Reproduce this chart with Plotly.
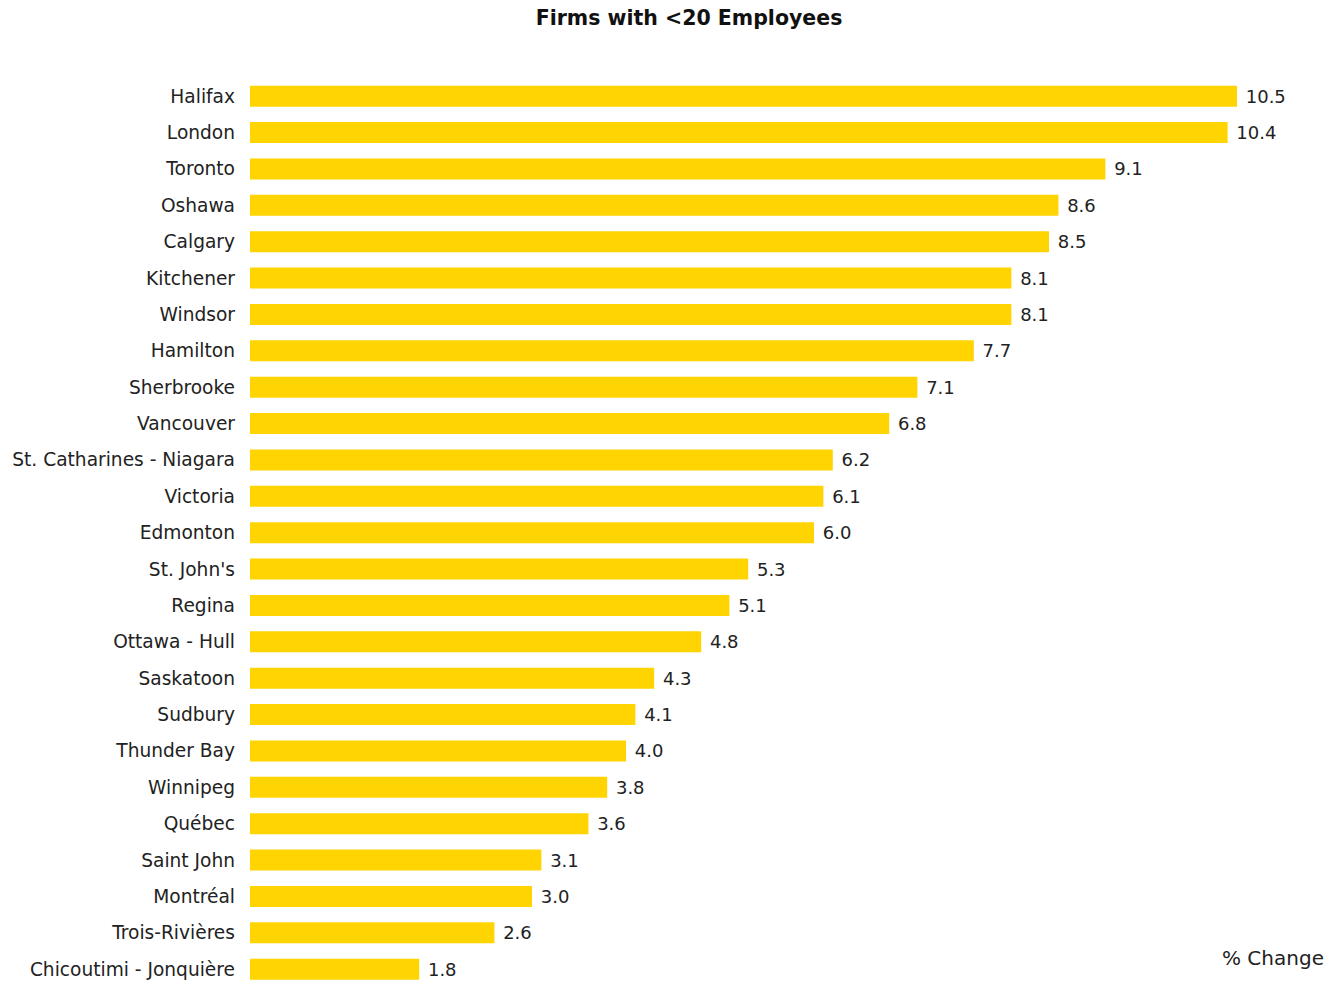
import plotly.graph_objects as go

# Percent change in firms with fewer than 20 employees, by census metropolitan area
cities = [
    "Halifax", "London", "Toronto", "Oshawa", "Calgary", "Kitchener", "Windsor",
    "Hamilton", "Sherbrooke", "Vancouver", "St. Catharines - Niagara", "Victoria",
    "Edmonton", "St. John's", "Regina", "Ottawa - Hull", "Saskatoon", "Sudbury",
    "Thunder Bay", "Winnipeg", "Québec", "Saint John", "Montréal", "Trois-Rivières",
    "Chicoutimi - Jonquière",
]
pct_change = [
    10.5, 10.4, 9.1, 8.6, 8.5, 8.1, 8.1,
    7.7, 7.1, 6.8, 6.2, 6.1,
    6.0, 5.3, 5.1, 4.8, 4.3, 4.1,
    4.0, 3.8, 3.6, 3.1, 3.0, 2.6,
    1.8,
]

W, H = 1341, 983
M_L, M_R, M_T, M_B = 250, 10, 78, 0
FONT = "DejaVu Sans, Verdana, sans-serif"

fig = go.Figure(
    go.Bar(
        x=pct_change,
        y=cities,
        orientation="h",
        marker=dict(color="#FFD400", line=dict(width=0)),
        text=[f" {v:.1f}" for v in pct_change],
        textposition="outside",
        textfont=dict(family=FONT, size=18, color="#222222"),
        cliponaxis=False,
        hoverinfo="x+y",
    )
)

plot_w = W - M_L - M_R
plot_h = H - M_T - M_B

fig.update_layout(
    width=W,
    height=H,
    paper_bgcolor="white",
    plot_bgcolor="white",
    margin=dict(l=M_L, r=M_R, t=M_T, b=M_B),
    bargap=0.42,
    showlegend=False,
    font=dict(family=FONT, size=18, color="#222222"),
    title=dict(
        text="<b>Firms with &lt;20 Employees</b>",
        font=dict(family=FONT, size=20.5, color="#111111"),
        x=689 / W,
        xref="container",
        xanchor="center",
        y=1 - 18 / H,
        yref="container",
        yanchor="middle",
    ),
    xaxis=dict(
        range=[0, 11.5],
        showgrid=False,
        zeroline=False,
        showline=False,
        showticklabels=False,
        ticks="",
    ),
    yaxis=dict(
        type="category",
        categoryorder="array",
        categoryarray=cities,
        range=[24.38, -0.5],
        showgrid=False,
        zeroline=False,
        showline=False,
        ticks="",
        ticklabelstandoff=14,
        tickfont=dict(family=FONT, size=18.6, color="#222222"),
    ),
    annotations=[
        dict(
            text="% Change",
            xref="paper",
            yref="paper",
            x=(1326 - M_L) / plot_w,
            y=(H - 958) / plot_h,
            xanchor="right",
            yanchor="middle",
            showarrow=False,
            font=dict(family=FONT, size=20, color="#222222"),
        )
    ],
)

fig.write_html("out.html")
